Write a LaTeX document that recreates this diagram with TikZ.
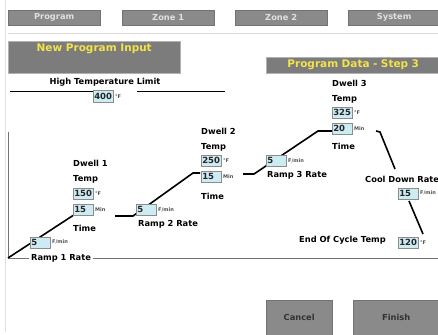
\documentclass[tikz,border=0pt]{standalone}
\usepackage{fontspec}
\setmainfont{DejaVu Sans}
\usetikzlibrary{positioning}
\definecolor{tabgray}{HTML}{8A8A8A}
\definecolor{bannergray}{HTML}{7C7C7C}
\definecolor{fieldblue}{HTML}{CDEBF3}
\definecolor{bannertext}{HTML}{F2E34A}
\tikzset{tab/.style={fill=tabgray, draw=black!55, anchor=north west, minimum width=92pt, minimum height=15pt, inner sep=0pt, text=black!12, font=\fontsize{8.3}{9}\selectfont\bfseries}}
\tikzset{banner/.style={fill=bannergray, draw=black!30, anchor=north west, inner sep=0pt, text=bannertext, font=\fontsize{10.5}{12}\selectfont\bfseries}}
\tikzset{btn/.style={fill=tabgray, draw=black!55, anchor=north west, minimum width=66pt, minimum height=40pt, inner sep=0pt, text=black!80, font=\fontsize{8.3}{9}\selectfont\bfseries}}
\tikzset{field/.style={fill=fieldblue, draw=black!45, line width=0.5pt, anchor=north west, minimum height=11pt, text width=18pt, align=left, inner xsep=1pt, inner ysep=0pt, text=black!85, font=\fontsize{8.5}{9}\selectfont\bfseries}}
\tikzset{unit/.style={inner sep=1.5pt, text=black!70, font=\fontsize{5}{6}\selectfont\bfseries}}
\tikzset{lbl/.style={anchor=west, inner sep=0pt, font=\fontsize{8.3}{10}\selectfont\bfseries}}
\tikzset{ramp/.style={line width=1.6pt, black}}
\tikzset{axis/.style={line width=0.8pt, black!55}}

\begin{document}
\begin{tikzpicture}[x=1pt,y=-1pt]
\useasboundingbox (0,0) rectangle (438,334);
\clip (0,0) rectangle (438,334);
\draw[black!12, line width=0.8pt] (5,0) -- (5,332);

% tabs
\node (tprog) at (8,10)[tab]{Program};
\node (tz1) at (122,10)[tab]{Zone 1};
\node (tz2) at (235,10)[tab]{Zone 2};
\node (tsys) at (348,10)[tab]{System};
\draw[black!15, line width=0.8pt] (8,33) -- (438,33);

\node (npi) at (8,41)[banner, minimum width=172pt, minimum height=32pt, text depth=19pt]{New Program Input};
\node (pds) at (266,57)[banner, minimum width=180pt, minimum height=16pt, text width=174pt, align=center]{\hspace*{-6pt}Program Data - Step 3};

% high temperature limit
\node (htl) at (105,82)[lbl, anchor=center]{High Temperature Limit};
\coordinate (ht1) at (10,91.5);
\coordinate (ht2) at (137,91.5);
\coordinate (ht3) at (225,91.5);
\draw[ramp] (ht1) -- (93,91.5);
\draw[ramp] (ht2) -- (ht3);
\node (htf) at (93,90.5)[field, label={[unit]right:°F}]{400};

% axes
\coordinate (o) at (8,258);
\node (r1l) at (29,258)[lbl, inner xsep=2pt]{Ramp 1 Rate};
\draw[axis] (8,132) -- (o) -- (r1l.west);
\draw[axis] (r1l.east) -- (438,258);

% ramp line
\coordinate (r2a) at (115,216);
\coordinate (r2b) at (133,216);
\coordinate (r2c) at (193,173);
\coordinate (r3a) at (243,174);
\coordinate (r3b) at (254,174);
\coordinate (r3c) at (318,131);
\coordinate (c1) at (376,131);
\coordinate (c2) at (380,132);
\coordinate (c3) at (395,169);
\coordinate (c4) at (409,201);
\coordinate (c5) at (423,234);
\draw[ramp] (o) -- (73,215.5);
\draw[ramp] (r2a) -- (r2b) -- (r2c) -- (200,173);
\draw[ramp] (r3a) -- (r3b) -- (r3c) -- (332,131);
\draw[ramp] (c1) -- (c2) -- (c3);
\draw[ramp] (c4) -- (c5);

% dwell 1
\node (r1) at (30,236.5)[field, label={[unit]right:F/min}]{5};
\node (d1l) at (73,163)[lbl]{Dwell 1};
\node (d1tl) at (73,179)[lbl]{Temp};
\node (d1t) at (73,187.5)[field, label={[unit]right:°F}]{150};
\node (d1m) at (73,203.5)[field, label={[unit]right:Min}]{15};
\node (d1ml) at (73,228)[lbl]{Time};

% dwell 2
\node (r2) at (136,204)[field, label={[unit]right:F/min}]{5};
\node (r2l) at (138,224)[lbl]{Ramp 2 Rate};
\node (d2l) at (201,131)[lbl]{Dwell 2};
\node (d2tl) at (201,147)[lbl]{Temp};
\node (d2t) at (201,155)[field, label={[unit]right:°F}]{250};
\node (d2m) at (201,170.5)[field, label={[unit]right:Min}]{15};
\node (d2ml) at (201,196)[lbl]{Time};

% dwell 3
\node (r3) at (266,155)[field, label={[unit]right:F/min}]{5};
\node (r3l) at (267,175)[lbl]{Ramp 3 Rate};
\node (d3l) at (332,83)[lbl]{Dwell 3};
\node (d3tl) at (332,99)[lbl]{Temp};
\node (d3t) at (332,107)[field, label={[unit]right:°F}]{325};
\node (d3m) at (332,122.5)[field, label={[unit]right:Min}]{20};
\node (d3ml) at (332,146)[lbl]{Time};

% cool down
\node (cdl) at (365,179)[lbl]{Cool Down Rate};
\node (cd) at (398,187.5)[field, label={[unit]right:F/min}]{15};
\node (ecl) at (299,240.5)[lbl]{End Of Cycle Temp};
\node (ec) at (398,236.5)[field, label={[unit]right:°F}]{120};

% buttons
\node (bcan) at (266,300)[btn]{\raisebox{6pt}{Cancel}};
\node (bfin) at (353,300)[btn, minimum width=90pt]{\hspace*{-4pt}\raisebox{6pt}{Finish}};
\end{tikzpicture}
\end{document}
